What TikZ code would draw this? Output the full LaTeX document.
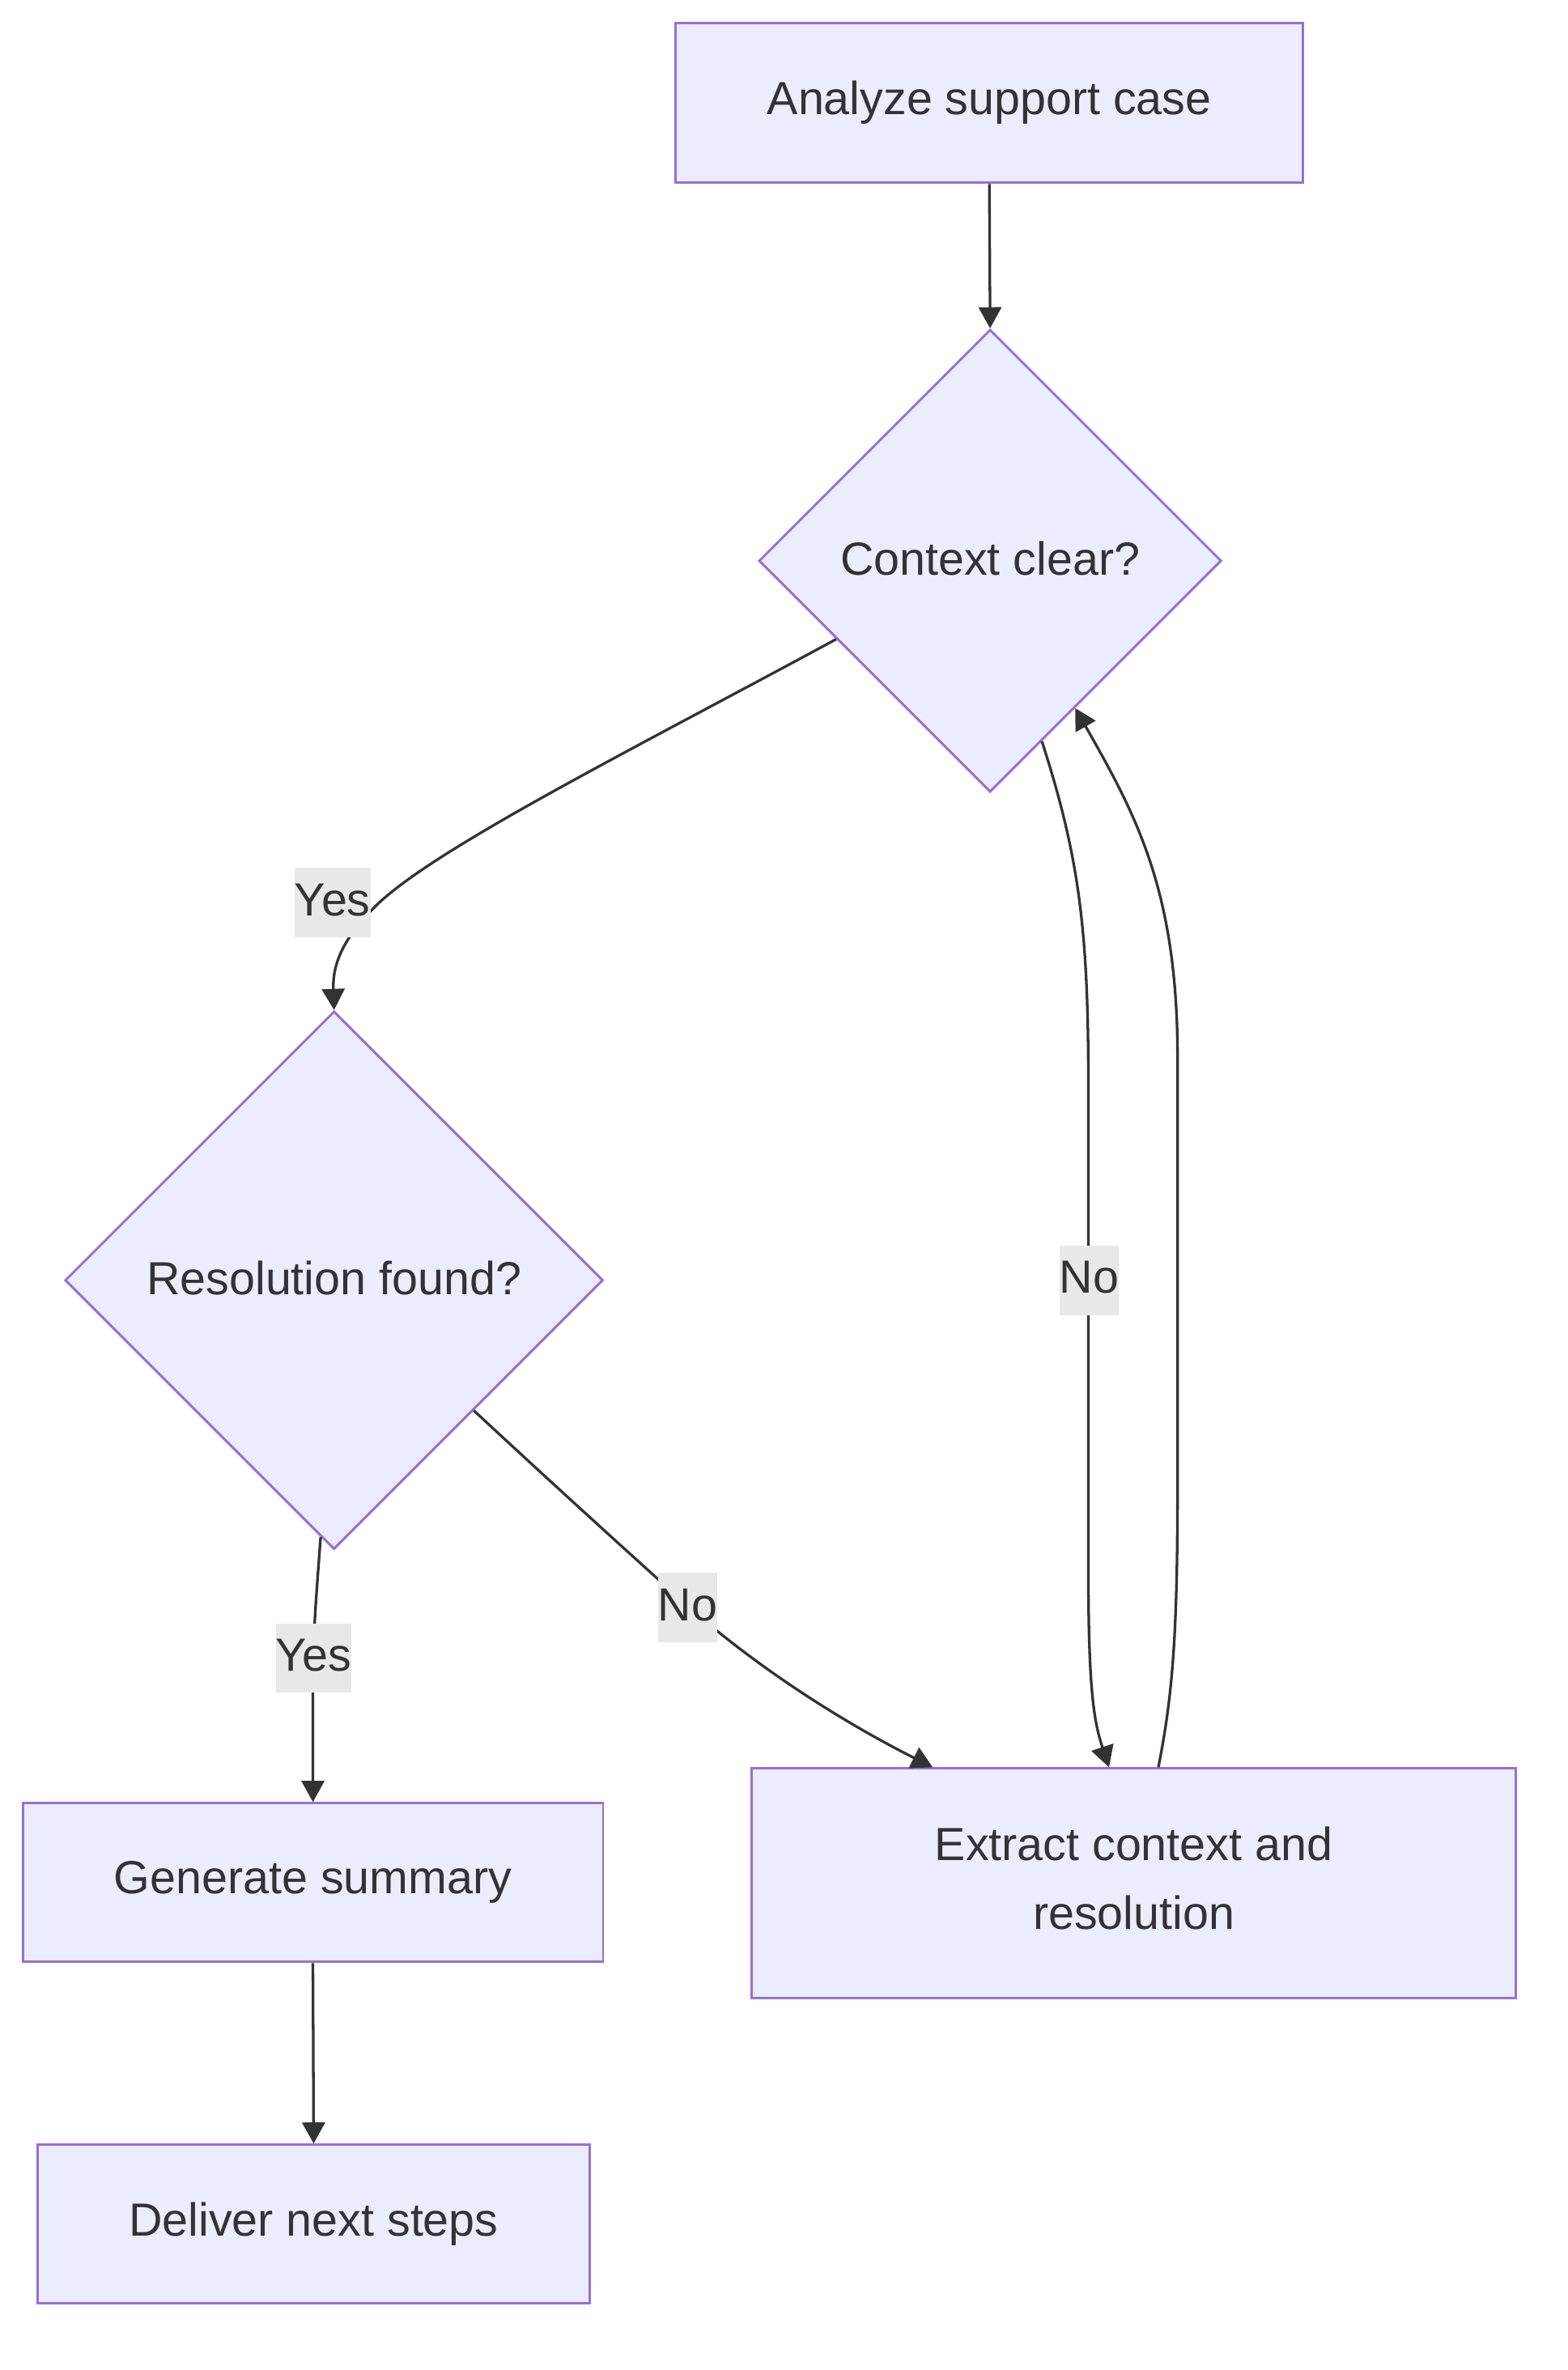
\documentclass[tikz,border=0pt]{standalone}
\usepackage{fontspec}
\setmainfont{Liberation Sans}
\usetikzlibrary{arrows.meta,shapes.geometric}

\definecolor{nodefill}{HTML}{ECECFF}
\definecolor{nodeline}{HTML}{9370DB}
\definecolor{inkgray}{HTML}{333333}
\definecolor{labelbg}{HTML}{E8E8E8}

\begin{document}
\begin{tikzpicture}[x=0.02cm,y=-0.02cm,
    every node/.style={text=inkgray, font=\fontsize{17.5pt}{26.2pt}\selectfont},
    box/.style={rectangle, draw=nodeline, fill=nodefill, line width=0.9pt, align=center, inner sep=0pt},
    decision/.style={diamond, aspect=1, draw=nodeline, fill=nodefill, line width=0.9pt, inner sep=0pt, text depth=0.21em},
    flow/.style={draw=inkgray, line width=1pt, -{Triangle[length=0.28cm,width=0.3cm]}},
    edgelabel/.style={fill=labelbg, inner xsep=0pt, inner ysep=0pt, minimum height=0.92cm, text depth=0.21em}]
  \useasboundingbox (0,0) rectangle (1037,1568);

  \node[box, minimum width=8.3cm, minimum height=2.12cm] (analyze) at (654.5,68) {Analyze support case};
  \node[decision, minimum width=6.12cm, minimum height=6.12cm] (ctx) at (655,371) {Context clear?};
  \node[decision, minimum width=7.12cm, minimum height=7.12cm] (res) at (221,847) {Resolution found?};
  \node[box, minimum width=10.12cm, minimum height=3.04cm, text depth=0.4em] (extract) at (750,1246) {Extract context and\\resolution};
  \node[box, minimum width=7.68cm, minimum height=2.1cm] (summary) at (207,1245.5) {Generate summary};
  \node[box, minimum width=7.3cm, minimum height=2.1cm] (deliver) at (207.5,1471.5) {Deliver next steps};

  \draw[flow] (analyze.south) -- (ctx.north);
  \draw[flow] (ctx.207) .. controls (420,495) and (290,560) .. (250,598)
    .. controls (225,622) and (220,640) .. (res.north);
  \draw[flow] (ctx.286) .. controls (715,570) and (720,620) .. (720,720)
    -- (720,1040) .. controls (720,1120) and (724,1140) .. (extract.102.6);
  \draw[flow] (extract.78.1) .. controls (776,1120) and (779,1080) .. (779,980)
    -- (779,700) .. controls (779,590) and (752,540) .. (ctx.300);
  \draw[flow] (res.267) .. controls (209,1060) and (207,1080) .. (207,1120) -- (summary.north);
  \draw[flow] (res.317) .. controls (380,995) and (430,1040) .. (460,1067)
    .. controls (510,1110) and (565,1143) .. (extract.150.3);
  \draw[flow] (summary.south) -- (deliver.north);

  \node[edgelabel] (yesctx) at (220,597) {Yes};
  \node[edgelabel] (noctx) at (720.5,847) {No};
  \node[edgelabel] (yesres) at (207.5,1097) {Yes};
  \node[edgelabel] (nores) at (455,1063.5) {No};
\end{tikzpicture}
\end{document}
